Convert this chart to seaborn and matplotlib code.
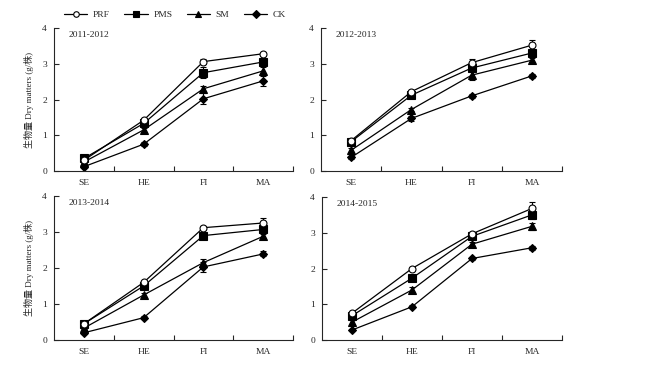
import numpy as np
import pandas as pd
import matplotlib
matplotlib.use("Agg")
import matplotlib.pyplot as plt
import seaborn as sns

stages = ["SE", "HE", "FI", "MA"]
treatments = ["PRF", "PMS", "SM", "CK"]
years = ["2011-2012", "2012-2013", "2013-2014", "2014-2015"]

# means per year (rows) and stage (columns)
prf = [[0.30, 1.42, 3.06, 3.28],
       [0.85, 2.22, 3.03, 3.52],
       [0.45, 1.60, 3.12, 3.25],
       [0.75, 2.00, 2.97, 3.68]]
pms = [[0.35, 1.33, 2.75, 3.05],
       [0.82, 2.12, 2.88, 3.30],
       [0.45, 1.50, 2.90, 3.07],
       [0.68, 1.73, 2.90, 3.50]]
sm = [[0.25, 1.15, 2.30, 2.80],
      [0.58, 1.72, 2.68, 3.10],
      [0.33, 1.25, 2.15, 2.88],
      [0.50, 1.40, 2.68, 3.18]]
ck = [[0.12, 0.75, 2.02, 2.52],
      [0.38, 1.47, 2.10, 2.66],
      [0.20, 0.62, 2.03, 2.39],
      [0.28, 0.93, 2.28, 2.58]]

# standard errors
prf_err = [[0.02, 0.05, 0.06, 0.05],
           [0.03, 0.05, 0.10, 0.15],
           [0.03, 0.04, 0.04, 0.15],
           [0.03, 0.04, 0.05, 0.18]]
pms_err = [[0.03, 0.05, 0.15, 0.08],
           [0.05, 0.05, 0.08, 0.08],
           [0.03, 0.06, 0.06, 0.08],
           [0.05, 0.05, 0.05, 0.12]]
sm_err = [[0.02, 0.05, 0.08, 0.10],
          [0.05, 0.05, 0.13, 0.06],
          [0.03, 0.05, 0.10, 0.06],
          [0.05, 0.07, 0.05, 0.10]]
ck_err = [[0.02, 0.06, 0.15, 0.15],
          [0.04, 0.06, 0.05, 0.05],
          [0.03, 0.04, 0.15, 0.07],
          [0.03, 0.04, 0.04, 0.05]]

means = {"PRF": prf, "PMS": pms, "SM": sm, "CK": ck}
errs = {"PRF": prf_err, "PMS": pms_err, "SM": sm_err, "CK": ck_err}

sns.set_theme(style="ticks")
plt.rcParams["font.family"] = ["Liberation Serif", "Noto Sans CJK SC"]
plt.rcParams["axes.linewidth"] = 0.8

W, H = 645, 374
fig = plt.figure(figsize=(W / 100, H / 100), dpi=100)

boxes = [
    (54, 28, 293, 171),
    (321, 28, 562, 171),
    (54, 196, 293, 340),
    (322, 197, 562, 340),
]

markers = {"PRF": "o", "PMS": "s", "SM": "^", "CK": "D"}
msizes = {"PRF": 5, "PMS": 5.5, "SM": 5.5, "CK": 4.5}
palette = {t: "black" for t in treatments}

handles = labels = None
for i, (yr, (x0, y0, x1, y1)) in enumerate(zip(years, boxes)):
    ax = fig.add_axes([x0 / W, 1 - y1 / H, (x1 - x0) / W, (y1 - y0) / H])
    rows = []
    for t in treatments:
        for s, v in zip(stages, means[t][i]):
            rows.append({"Stage": s, "DM": v, "Treatment": t})
    df = pd.DataFrame(rows)
    sns.lineplot(data=df, x="Stage", y="DM", hue="Treatment", style="Treatment",
                 hue_order=treatments, style_order=treatments,
                 palette=palette, markers=markers, dashes=False,
                 linewidth=0.9, markersize=5, markeredgecolor="black",
                 errorbar=None, sort=False, ax=ax, legend=(i == 0))
    for line, t in zip(ax.lines[:4], treatments):
        line.set_markersize(msizes[t])
        line.set_markeredgewidth(0.8)
        if t == "PRF":
            line.set_markerfacecolor("white")
            line.set_zorder(5)
    for t in treatments:
        ax.errorbar(np.arange(len(stages)), means[t][i], yerr=errs[t][i],
                    fmt="none", ecolor="black", elinewidth=0.8,
                    capsize=2, capthick=0.8, zorder=1)
    if i == 0:
        handles, labels = ax.get_legend_handles_labels()
        ax.get_legend().remove()
    ax.set_xlim(-0.5, 3.5)
    ax.set_ylim(0, 4)
    ax.set_yticks([0, 1, 2, 3, 4])
    ax.set_xticks(range(4))
    ax.set_xticklabels(stages)
    ax.set_xticks([0.5, 1.5, 2.5, 3.5], minor=True)
    ax.tick_params(axis="x", which="major", length=0, pad=6, labelsize=6.8)
    ax.tick_params(axis="x", which="minor", direction="in", length=3.5, width=0.8)
    ax.tick_params(axis="y", direction="in", length=3.5, width=0.8, pad=5,
                   labelsize=6.8)
    sns.despine(ax=ax)
    ax.set_xlabel("")
    if i % 2 == 0:
        ax.set_ylabel("生物量 Dry matters (g/株)", fontsize=6.5, labelpad=6)
    else:
        ax.set_ylabel("")
    ax.text(0.06, 0.95, yr, transform=ax.transAxes, ha="left", va="center",
            fontsize=6.8)

for h, l in zip(handles, labels):
    h.set_markeredgecolor("black")
    h.set_markeredgewidth(0.8)
    h.set_markersize(4)
    if l == "PRF":
        h.set_markerfacecolor("white")
fig.legend(handles, labels, loc="center", bbox_to_anchor=(175 / W, 1 - 15 / H),
           ncol=4, frameon=False, fontsize=6.8, handlelength=2.5,
           handletextpad=0.6, columnspacing=1.5)

fig.savefig("out.png", dpi=100)
